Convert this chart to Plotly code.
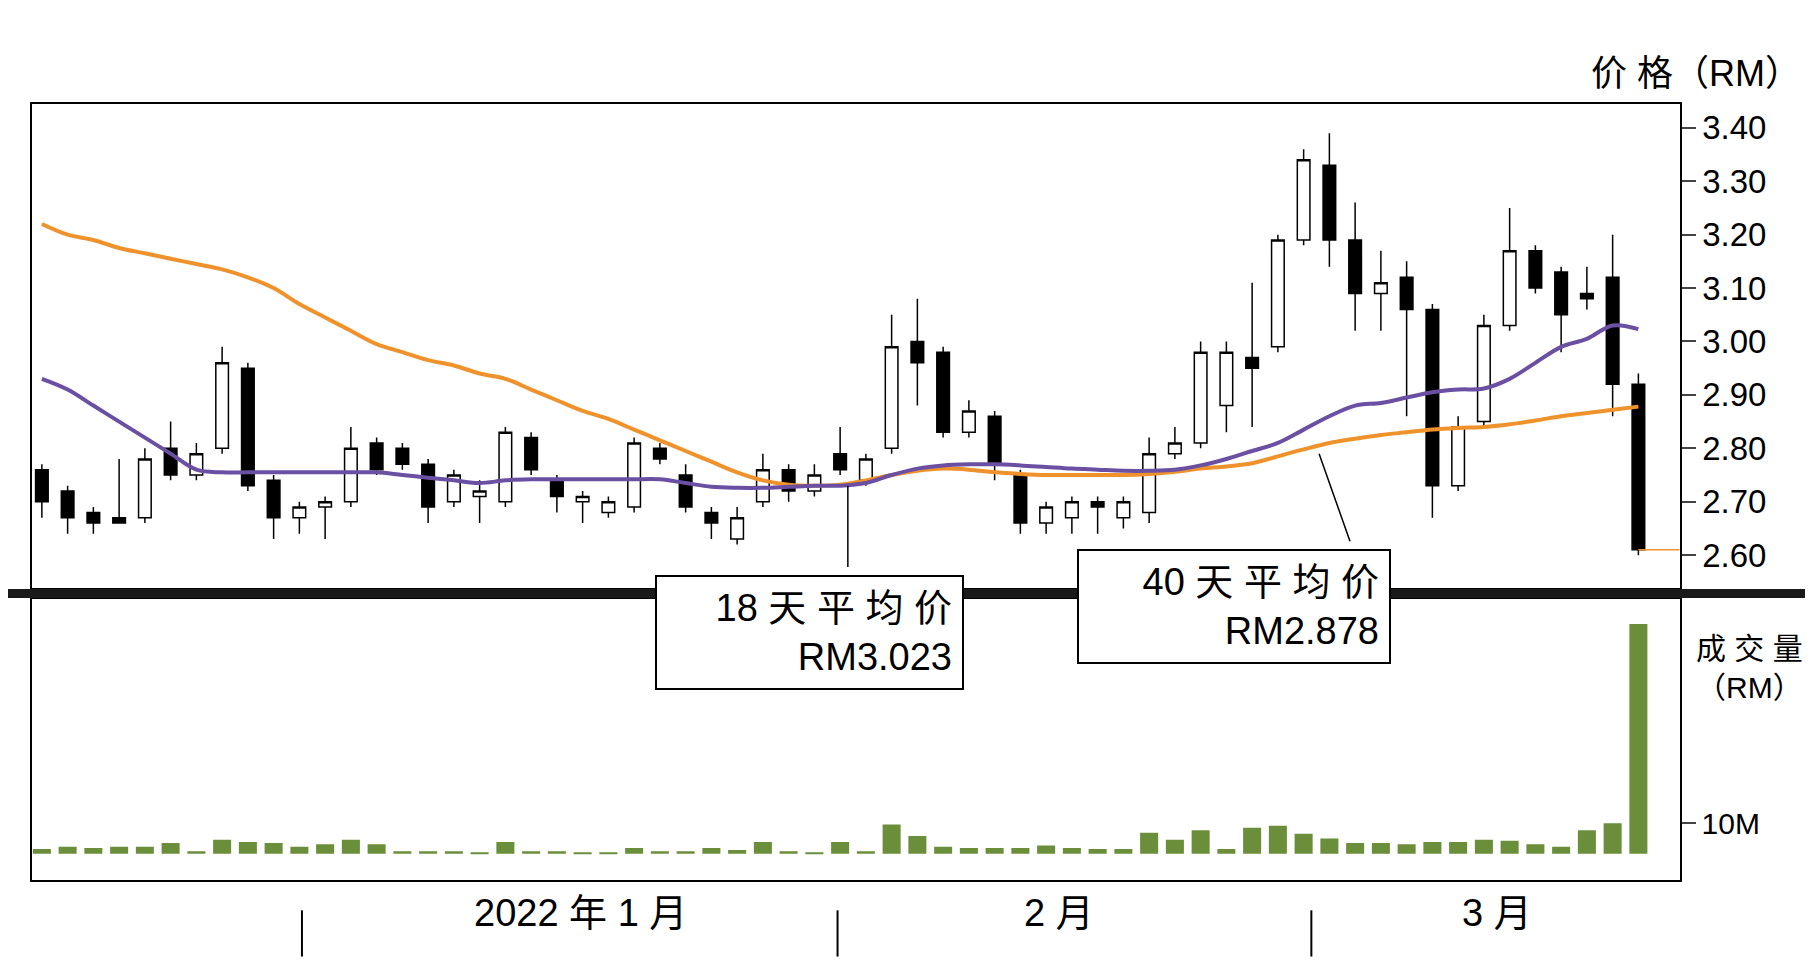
import plotly.graph_objects as go

open_ = [2.76,2.72,2.68,2.67,2.67,2.80,2.75,2.80,2.95,2.74,2.67,2.69,2.70,2.81,2.80,2.77,2.70,2.71,2.70,2.82,2.74,2.70,2.68,2.69,2.80,2.75,2.68,2.63,2.70,2.76,2.72,2.79,2.74,2.80,3.00,2.98,2.83,2.86,2.75,2.66,2.67,2.70,2.67,2.68,2.79,2.81,2.88,2.97,2.99,3.19,3.33,3.19,3.09,3.12,3.06,2.73,2.85,3.03,3.17,3.13,3.09,3.12,2.92]
close = [2.70,2.67,2.66,2.66,2.78,2.75,2.79,2.96,2.73,2.67,2.69,2.70,2.80,2.76,2.77,2.69,2.75,2.72,2.83,2.76,2.71,2.71,2.70,2.81,2.78,2.69,2.66,2.67,2.76,2.72,2.75,2.76,2.78,2.99,2.96,2.83,2.87,2.77,2.66,2.69,2.70,2.69,2.70,2.79,2.81,2.98,2.98,2.95,3.19,3.34,3.19,3.09,3.11,3.06,2.73,2.84,3.03,3.17,3.10,3.05,3.08,2.92,2.61]
high = [2.77,2.73,2.69,2.78,2.80,2.85,2.81,2.99,2.96,2.75,2.70,2.71,2.84,2.82,2.81,2.78,2.76,2.74,2.84,2.83,2.75,2.72,2.71,2.82,2.81,2.77,2.69,2.69,2.79,2.77,2.77,2.84,2.79,3.05,3.08,2.99,2.89,2.87,2.76,2.70,2.71,2.71,2.71,2.82,2.84,3.00,3.00,3.11,3.20,3.36,3.39,3.26,3.17,3.15,3.07,2.86,3.05,3.25,3.18,3.14,3.14,3.20,2.94]
low = [2.67,2.64,2.64,2.66,2.66,2.74,2.74,2.79,2.72,2.63,2.64,2.63,2.69,2.75,2.76,2.66,2.69,2.66,2.69,2.75,2.68,2.66,2.67,2.68,2.77,2.68,2.63,2.62,2.69,2.70,2.71,2.75,2.73,2.79,2.88,2.82,2.82,2.74,2.64,2.64,2.64,2.64,2.65,2.66,2.78,2.80,2.83,2.84,2.98,3.18,3.14,3.02,3.02,2.86,2.67,2.72,2.84,3.02,3.09,2.98,3.06,2.86,2.60]
ma18 = [2.93,2.91,2.88,2.85,2.82,2.79,2.76,2.755,2.755,2.755,2.755,2.755,2.755,2.755,2.75,2.745,2.74,2.735,2.74,2.742,2.742,2.742,2.742,2.742,2.742,2.735,2.728,2.726,2.726,2.728,2.73,2.73,2.735,2.75,2.762,2.768,2.77,2.77,2.768,2.765,2.762,2.76,2.758,2.758,2.76,2.768,2.78,2.795,2.81,2.835,2.86,2.88,2.885,2.895,2.905,2.91,2.912,2.93,2.96,2.99,3.005,3.03,3.023]
ma40 = [3.22,3.20,3.19,3.175,3.165,3.155,3.145,3.135,3.12,3.10,3.07,3.045,3.02,2.995,2.98,2.965,2.955,2.94,2.93,2.91,2.89,2.87,2.855,2.835,2.815,2.795,2.775,2.755,2.74,2.732,2.73,2.732,2.74,2.75,2.758,2.762,2.76,2.755,2.752,2.75,2.75,2.75,2.75,2.752,2.756,2.762,2.766,2.772,2.785,2.798,2.81,2.818,2.825,2.83,2.835,2.838,2.84,2.845,2.852,2.86,2.866,2.872,2.878]
volume = [1.5,2.3,1.9,2.3,2.3,3.5,0.8,4.6,3.8,3.5,2.3,3.1,4.6,3.1,0.8,0.8,0.8,0.4,3.8,0.8,0.8,0.4,0.4,1.9,0.8,0.8,1.9,1.2,3.8,0.8,0.4,3.8,0.8,9.6,5.8,2.3,1.9,1.9,1.9,2.7,1.9,1.5,1.5,6.9,4.6,7.7,1.5,8.5,9.2,6.5,5.0,3.5,3.5,3.1,3.8,3.8,4.6,4.2,3.1,2.3,7.7,10.0,75.4]
price_ticks = [2.60,2.70,2.80,2.90,3.00,3.10,3.20,3.30,3.40]
month_labels = ["2022 年 1 月", "2 月", "3 月"]
month_label_pos = [20.9, 39.5, 56.5]
month_sep_pos = [10.1, 30.9, 49.3]

x = list(range(len(open_)))
fig = go.Figure()
fig.add_trace(go.Candlestick(x=x, open=open_, high=high, low=low, close=close,
    increasing=dict(line=dict(color="black", width=1.5), fillcolor="white"),
    decreasing=dict(line=dict(color="black", width=1.5), fillcolor="black"),
    whiskerwidth=0, xaxis="x", yaxis="y", showlegend=False))
fig.add_trace(go.Scatter(x=x, y=ma40, mode="lines", line=dict(color="#f0922b", width=4, shape="spline"), xaxis="x", yaxis="y", showlegend=False))
fig.add_trace(go.Scatter(x=x, y=ma18, mode="lines", line=dict(color="#6a4fa3", width=4, shape="spline"), xaxis="x", yaxis="y", showlegend=False))
fig.add_trace(go.Scatter(x=[x[-1], 63.6], y=[close[-1], close[-1]], mode="lines", line=dict(color="#f0922b", width=1.5), xaxis="x", yaxis="y", showlegend=False))
fig.add_trace(go.Bar(x=x, y=volume, marker=dict(color="#6b8e3a", line=dict(width=0)), width=0.7, xaxis="x2", yaxis="y2", showlegend=False))

F = "Liberation Sans, Arial, Noto Sans CJK SC"
fig.update_layout(
    width=1813, height=963, margin=dict(l=0, r=0, t=0, b=0),
    paper_bgcolor="white", plot_bgcolor="white", font=dict(family=F, color="black"),
    xaxis=dict(domain=[0.013, 0.922], range=[-0.4, 63.6], showticklabels=False, showgrid=False,
               rangeslider=dict(visible=False), showline=True, linecolor="black", linewidth=2, mirror=True, anchor="y", zeroline=False),
    yaxis=dict(domain=[0.398, 0.90], range=[2.539, 3.444], side="right", tickvals=price_ticks,
               ticktext=["%.2f" % v for v in price_ticks], ticks="outside", ticklen=14, tickwidth=2,
               tickfont=dict(size=33, family=F), showgrid=False, showline=True, linecolor="black", linewidth=2, mirror=True, zeroline=False),
    xaxis2=dict(domain=[0.013, 0.922], range=[-0.4, 63.6], showticklabels=False, showgrid=False,
                showline=True, linecolor="black", linewidth=2, mirror=True, anchor="y2", zeroline=False),
    yaxis2=dict(domain=[0.094, 0.386], range=[-8.8, 83.5], side="right", tickvals=[10], ticktext=["10M"],
                ticks="outside", ticklen=14, tickwidth=2, tickfont=dict(size=30, family=F), showgrid=False,
                showline=True, linecolor="black", linewidth=2, mirror=True, zeroline=False, anchor="x2"),
    bargap=0.3,
)
shapes = [dict(type="line", xref="paper", yref="paper", x0=0.0, x1=0.995, y0=0.392, y1=0.392, line=dict(color="#1a1a1a", width=9)),
          dict(type="line", xref="x", yref="y", x0=31.3, y0=2.73, x1=31.3, y1=2.578, line=dict(color="black", width=1.5)),
          dict(type="line", xref="x", yref="y", x0=49.6, y0=2.79, x1=50.8, y1=2.626, line=dict(color="black", width=1.5))]
for p in month_sep_pos:
    shapes.append(dict(type="line", xref="x", yref="paper", x0=p, x1=p, y0=0.015, y1=0.063, line=dict(color="black", width=2)))
fig.update_layout(shapes=shapes)
ann = [
    dict(text="18 天 平 均 价<br>RM3.023", xref="paper", yref="paper", x=0.442, y=0.352, showarrow=False, align="right",
         bgcolor="white", bordercolor="black", borderwidth=2, borderpad=10, width=285, font=dict(size=38, family=F)),
    dict(text="40 天 平 均 价<br>RM2.878", xref="paper", yref="paper", x=0.763, y=0.378, showarrow=False, align="right",
         bgcolor="white", bordercolor="black", borderwidth=2, borderpad=10, width=290, font=dict(size=38, family=F)),
    dict(text="价 格（RM）", xref="paper", yref="paper", x=0.99, y=0.955, xanchor="right", showarrow=False, font=dict(size=36, family=F)),
    dict(text="成 交 量<br>（RM）", xref="paper", yref="paper", x=0.93, y=0.275, xanchor="left", align="left", showarrow=False, font=dict(size=30, family=F)),
]
for t, p in zip(month_labels, month_label_pos):
    ann.append(dict(text=t, xref="x", yref="paper", x=p, y=0.036, showarrow=False, font=dict(size=38, family=F)))
fig.update_layout(annotations=ann)
fig.write_html("out.html")
